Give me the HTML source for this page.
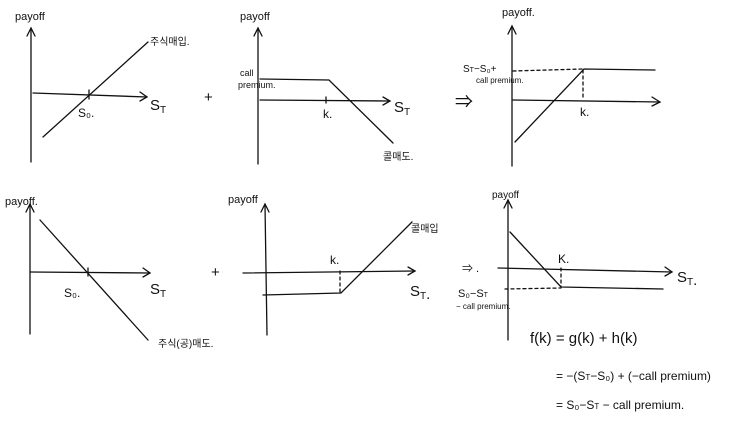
<!DOCTYPE html>
<html><head><meta charset="utf-8"><style>
html,body{margin:0;padding:0;background:#fff;width:734px;height:423px;overflow:hidden}
svg text{font-family:"Liberation Sans","Noto Sans CJK KR",sans-serif;fill:#111}
</style></head><body>
<svg width="734" height="423" viewBox="0 0 734 423" xmlns="http://www.w3.org/2000/svg" stroke="#111" stroke-width="1.3" fill="none" stroke-linecap="round">
<!-- Panel 1 -->
<line x1="31" y1="30" x2="31" y2="162"/>
<polyline points="27,36 31,28 35,36"/>
<line x1="33" y1="93" x2="147" y2="97"/>
<polyline points="140,92 147,97 140,101"/>
<line x1="89" y1="90" x2="89" y2="99"/>
<line x1="43" y1="137" x2="148" y2="42"/>
<!-- Panel 2 -->
<line x1="258" y1="30" x2="258" y2="164"/>
<polyline points="254,36 258,28 262,36"/>
<line x1="260" y1="100" x2="390" y2="101"/>
<polyline points="383,97 390,101 383,105"/>
<line x1="326" y1="97" x2="326" y2="103"/>
<polyline points="260,79 329,80 393,143"/>
<!-- Panel 3 -->
<line x1="512" y1="28" x2="512" y2="166"/>
<polyline points="508,34 512,26 516,34"/>
<line x1="513" y1="100" x2="660" y2="102"/>
<polyline points="652,97 660,102 652,106"/>
<polyline points="515,142 584,69 655,70"/>
<line x1="513" y1="71" x2="583" y2="69" stroke-dasharray="3,3"/>
<line x1="583" y1="70" x2="583" y2="100" stroke-dasharray="3,3"/>
<!-- Panel 4 -->
<line x1="30" y1="205" x2="30" y2="334"/>
<polyline points="26,212 30,204 34,212"/>
<line x1="30" y1="272" x2="150" y2="273"/>
<polyline points="143,268 150,273 143,277"/>
<line x1="88" y1="268" x2="88" y2="276"/>
<line x1="40" y1="220" x2="148" y2="340"/>
<!-- Panel 5 -->
<line x1="265" y1="205" x2="267" y2="335"/>
<polyline points="261,212 265,204 269,212"/>
<line x1="243" y1="273" x2="415" y2="271"/>
<polyline points="408,267 415,271 408,275"/>
<polyline points="263,295 341,293 412,222"/>
<line x1="340" y1="271" x2="340" y2="292" stroke-dasharray="3,3"/>
<!-- Panel 6 -->
<line x1="508" y1="200" x2="508" y2="340"/>
<polyline points="504,208 508,200 512,208"/>
<line x1="498" y1="268" x2="672" y2="272"/>
<polyline points="665,267 672,272 665,276"/>
<polyline points="510,232 561,287 663,289"/>
<line x1="505" y1="289" x2="561" y2="288" stroke-dasharray="3,3"/>
<line x1="561" y1="268" x2="561" y2="287" stroke-dasharray="3,3"/>
<g stroke="none">
<text x="15" y="20" font-size="11">payoff</text>
<text x="150" y="45" font-size="10">주식매입.</text>
<text x="78" y="117" font-size="12">S₀.</text>
<text x="150" y="110" font-size="15">S<tspan font-size="10" dy="3">T</tspan></text>
<text x="204" y="102" font-size="15">+</text>
<text x="240" y="20" font-size="11">payoff</text>
<text x="240" y="76" font-size="9">call</text>
<text x="238" y="88" font-size="9">premium.</text>
<text x="323" y="118" font-size="12">k.</text>
<text x="394" y="112" font-size="15">S<tspan font-size="10" dy="3">T</tspan></text>
<text x="383" y="160" font-size="10">콜매도.</text>
<text x="455" y="108" font-size="18">⇒</text>
<text x="502" y="16" font-size="11">payoff.</text>
<text x="463" y="72" font-size="10">S<tspan font-size="7">T</tspan>−S₀+</text>
<text x="476" y="83" font-size="8">call premium.</text>
<text x="580" y="116" font-size="12">k.</text>
<text x="5" y="205" font-size="11">payoff.</text>
<text x="64" y="297" font-size="12">S₀.</text>
<text x="150" y="294" font-size="15">S<tspan font-size="10" dy="3">T</tspan></text>
<text x="158" y="347" font-size="10">주식(공)매도.</text>
<text x="211" y="277" font-size="15">+</text>
<text x="228" y="203" font-size="11">payoff</text>
<text x="330" y="264" font-size="12">k.</text>
<text x="411" y="232" font-size="10">콜매입</text>
<text x="410" y="296" font-size="15">S<tspan font-size="10" dy="3">T</tspan>.</text>
<text x="462" y="272" font-size="11">⇒ .</text>
<text x="492" y="198" font-size="10">payoff</text>
<text x="558" y="263" font-size="12">K.</text>
<text x="677" y="282" font-size="15">S<tspan font-size="10" dy="3">T</tspan>.</text>
<text x="458" y="297" font-size="11">S₀−S<tspan font-size="7">T</tspan></text>
<text x="456" y="309" font-size="8">− call premium.</text>
<text x="530" y="343" font-size="15">f(k) = g(k) + h(k)</text>
<text x="556" y="380" font-size="12">= −(S<tspan font-size="8">T</tspan>−S₀) + (−call premium)</text>
<text x="556" y="409" font-size="12">= S₀−S<tspan font-size="8">T</tspan> − call premium.</text>
</g>
</svg>
</body></html>
